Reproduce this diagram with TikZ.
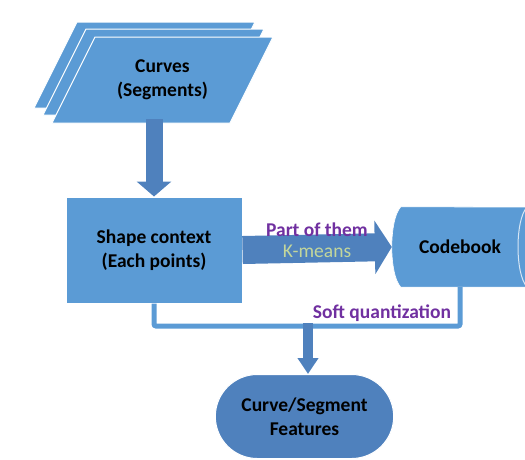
\documentclass[tikz,border=0pt]{standalone}
\usepackage{fontspec}
\setmainfont{Carlito}
\usetikzlibrary{shapes.misc,arrows.meta}
\definecolor{boxblue}{HTML}{5B9BD5}
\definecolor{arrblue}{HTML}{4F81BD}
\definecolor{lblpurple}{HTML}{7030A0}
\definecolor{lblgreen}{HTML}{C3D69B}
\tikzset{
  txt/.style={font=\fontsize{19.5}{24}\selectfont\bfseries, align=center},
  para/.style={fill=boxblue, draw=white, line width=1pt},
  procbox/.style={rectangle, minimum width=176pt, minimum height=106pt,
    fill=boxblue, draw=white, line width=1pt},
  termbox/.style={rounded rectangle, minimum width=185pt, minimum height=84pt,
    fill=arrblue, draw=white, line width=1pt},
  blk/.style={draw=arrblue},
  link/.style={draw=boxblue, line width=5pt, rounded corners=2pt},
}
\begin{document}
\begin{tikzpicture}[x=1pt,y=-1pt]
  \useasboundingbox (0,0) rectangle (525,459);
  \clip (0,0) rectangle (525,459);

  % Кривые (стопка)
  \foreach \dx/\dy in {-18/-15,-9/-8,0/0}
    \filldraw[para, shift={(\dx,\dy)}] (95,37) -- (273,37) -- (230,123) -- (52,123) -- cycle;
  \node[txt, minimum height=86pt, inner sep=0pt] (curves) at (162.5,80) {Curves\\(Segments)};

  % Shape context
  \node[procbox, txt] (shape) at (154,250) {Shape context\\(Each points)};

  % Кодовая книга
  \node[txt, minimum width=136pt, minimum height=80pt, inner sep=0pt] (codebook) at (460,247) {};
  \filldraw[boxblue, draw=white, line width=0.6pt] ([xshift=9pt]codebook.north west)
    .. controls ++(-12,13) and ++(-12,-13) .. ([xshift=9pt]codebook.south west)
    -- ++(150,0) -- ++(0,-80) -- cycle;
  \draw[white!75!boxblue, line width=1pt] (527,207) .. controls (515,220) and (515,274) .. (527,287);
  \node[txt] at (codebook.center) {Codebook};

  % Итог
  \node[termbox, txt] (features) at (304.5,416.5) {Curve/Segment\\Features};

  % Стрелки
  \draw[blk, line width=17pt, -{Triangle[length=15pt,width=34pt]}]
    ([yshift=4pt]shape.north |- curves.south) -- (shape.north);
  \draw[blk, line width=28pt, -{Triangle[length=17pt,width=53pt]}]
    (shape.east) -- (codebook.west);

  % Мягкое квантование
  \coordinate (sq) at (308,326);
  \draw[link] (codebook.south) |- (shape.south |- sq) -- (shape.south);
  \draw[blk, line width=10pt, -{Triangle[length=16pt,width=20pt]}]
    ([yshift=3pt]sq) -- (sq |- features.north);

  % Подписи
  \node[txt, text=lblpurple, anchor=base] (partlbl) at (317,236) {Part of them};
  \node[txt, font=\fontsize{19.5}{24}\selectfont, text=lblgreen, anchor=base] (kmlbl) at (317,257) {K-means};
  \node[txt, text=lblpurple, anchor=base] (softlbl) at (382,318) {Soft quantization};
\end{tikzpicture}
\end{document}
